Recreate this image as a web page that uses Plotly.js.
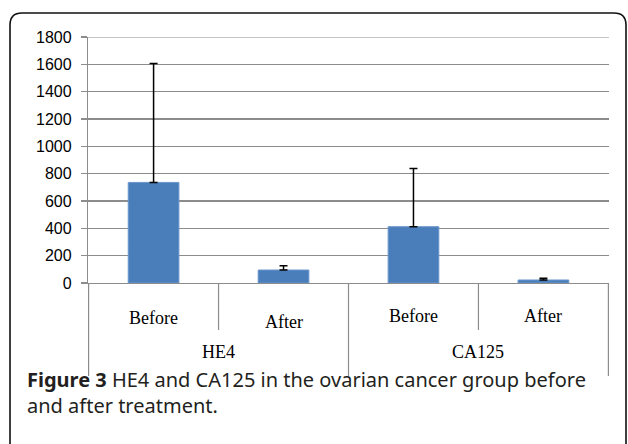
<!DOCTYPE html>
<html>
<head>
<meta charset="utf-8">
<script src="https://cdn.plot.ly/plotly-3.0.1.min.js"></script>
<style>html,body{margin:0;padding:0;background:#fff;}#chart{width:628px;height:444px;}</style>
</head>
<body>
<div id="chart"></div>
<script>
// ---- data ----
var markers = ["HE4", "HE4", "CA125", "CA125"];
var phases = ["Before", "After", "Before", "After"];
var means = [736, 95, 412, 22];
var errPlus = [870, 32, 425, 12];
var yTicks = [0, 200, 400, 600, 800, 1000, 1200, 1400, 1600, 1800];
var groups = ["HE4", "CA125"];
var captionBold = "Figure 3";
var captionLines = [" HE4 and CA125 in the ovarian cancer group before", "and after treatment."];

// ---- layout helpers (pixel -> paper) ----
var W = 628, H = 444, L = 88, R = 19, T = 37, B = 161;
var pw = W - L - R, ph = H - T - B;
function px(x) { return (x - L) / pw; }
function py(y) { return (H - B - y) / ph; }

var cats = markers.map(function (m, i) { return m + " " + phases[i]; });

var trace = {
  type: "bar",
  x: cats,
  y: means,
  marker: { color: "#4a7ebb", line: { color: "#6a96cc", width: 1 } },
  error_y: {
    type: "data", symmetric: false, array: errPlus,
    arrayminus: errPlus.map(function () { return 0; }),
    color: "#000", thickness: 1.5, width: 4
  },
  hoverinfo: "skip"
};

var shapes = [];
var annotations = [];
var gray = "#8c8c8c";
// top gridline (range end)
shapes.push({
  type: "line", xref: "paper", yref: "y", x0: 0, x1: 1,
  y0: yTicks[yTicks.length - 1], y1: yTicks[yTicks.length - 1],
  line: { color: gray, width: 1.2 }, layer: "below"
});
// dividers between categories
for (var i = 0; i <= cats.length; i++) {
  var isGroupEdge = (i === 0 || i === cats.length || markers[i] !== markers[i - 1]);
  shapes.push({
    type: "line", xref: "x", yref: "paper",
    x0: i - 0.5, x1: i - 0.5, y0: 0, y1: isGroupEdge ? py(376) : py(330),
    line: { color: gray, width: 1.2 }
  });
}
// phase labels
var labelDy = [0, 4, -2, -2];
phases.forEach(function (p, i) {
  annotations.push({
    xref: "x", yref: "paper", x: i, y: py(318 + labelDy[i]),
    text: p, showarrow: false, xanchor: "center", yanchor: "middle",
    font: { family: "Liberation Serif, Times New Roman, serif", size: 18, color: "#000" }
  });
});
// group labels
groups.forEach(function (g) {
  var idx = [];
  markers.forEach(function (m, i) { if (m === g) idx.push(i); });
  var c = (idx[0] + idx[idx.length - 1]) / 2;
  annotations.push({
    xref: "x", yref: "paper", x: c, y: py(352),
    text: g, showarrow: false, xanchor: "center", yanchor: "middle",
    font: { family: "Liberation Serif, Times New Roman, serif", size: 18, color: "#000" }
  });
});
// caption
annotations.push({
  xref: "paper", yref: "paper", x: px(25), y: py(392),
  text: "<b>" + captionBold + "</b>" + captionLines[0] + "<br>" + captionLines[1],
  showarrow: false, xanchor: "left", yanchor: "middle", align: "left",
  font: { family: "Noto Sans, Open Sans, sans-serif", size: 20, color: "#231f20" }
});
// outer rounded frame
var x0 = px(10), x1 = px(626), y0 = py(13), y1 = py(470);
var rx = 12 / pw, ry = 12 / ph;
shapes.push({
  type: "path", xref: "paper", yref: "paper", layer: "above",
  path: "M" + x0 + "," + (y1) + " L" + x0 + "," + (y0 - ry) +
        " Q" + x0 + "," + y0 + " " + (x0 + rx) + "," + y0 +
        " L" + (x1 - rx) + "," + y0 +
        " Q" + x1 + "," + y0 + " " + x1 + "," + (y0 - ry) +
        " L" + x1 + "," + y1,
  line: { color: "#111", width: 1.6 }
});

var layout = {
  width: W, height: H,
  margin: { l: L, r: R, t: T, b: B, pad: 0 },
  paper_bgcolor: "#fff", plot_bgcolor: "#fff",
  showlegend: false,
  bargap: 0.61,
  xaxis: {
    type: "category", showticklabels: false, ticks: "",
    showgrid: false, zeroline: false,
    showline: true, linecolor: gray, linewidth: 1.2,
    fixedrange: true
  },
  yaxis: {
    range: [0, 1800], tickvals: yTicks, ticktext: yTicks.map(String),
    ticks: "outside", ticklen: 6, tickcolor: gray, tickwidth: 1.2,
    showgrid: true, gridcolor: gray, gridwidth: 1.2,
    zeroline: false, showline: true, linecolor: gray, linewidth: 1.2,
    tickfont: { family: "Liberation Sans, Arial, sans-serif", size: 16, color: "#000" },
    ticklabelstandoff: 6,
    fixedrange: true
  },
  shapes: shapes,
  annotations: annotations
};

Plotly.newPlot("chart", [trace], layout, { staticPlot: true, displayModeBar: false });
</script>
</body>
</html>
